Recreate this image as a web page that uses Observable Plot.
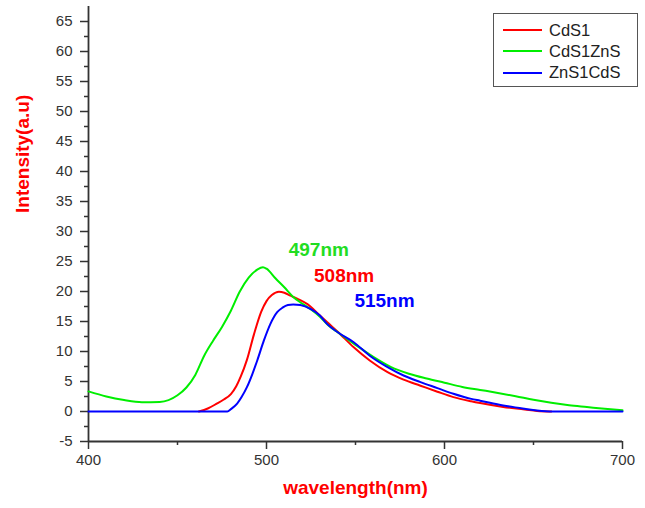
<!DOCTYPE html>
<html>
<head>
<meta charset="utf-8">
<script src="https://cdn.jsdelivr.net/npm/d3@7"></script>
<script src="https://cdn.jsdelivr.net/npm/@observablehq/plot@0.6"></script>
<style>
  body { margin: 0; background: #fff; }
  #wrap { position: relative; width: 645px; height: 508px; font-family: "Liberation Sans", Arial, sans-serif; }
  #legend { position: absolute; left: 493px; top: 13px; width: 143px; height: 72px; border: 1.5px solid #555; background: #fff; }
  #legend .row { position: absolute; left: 0; height: 20px; display: flex; align-items: center; }
  #legend .sw { display: inline-block; width: 39px; height: 2px; margin-left: 9px; margin-right: 7px; }
  #legend .lab { font-size: 16.5px; color: #222; }
</style>
</head>
<body>
<div id="wrap"></div>
<script>
// ---- data ----
const seriesNames = ["CdS1", "CdS1ZnS", "ZnS1CdS"];
const seriesColors = ["#ff0000", "#00ee00", "#0000ff"];

const cdsWl = [462, 467, 472, 476, 480, 483, 485.5, 489, 493, 497, 500, 503, 507, 510, 513.5, 518, 523, 530, 534, 540, 549, 558, 568, 577, 586.5, 596, 605, 615, 620, 633, 645, 652, 660];
const cdsI  = [0, 0.5, 1.3, 2.0, 2.9, 4.2, 5.8, 8.6, 12.9, 16.6, 18.4, 19.4, 19.95, 19.8, 19.3, 18.7, 17.9, 16.0, 14.9, 13.3, 10.7, 8.5, 6.55, 5.3, 4.3, 3.3, 2.4, 1.7, 1.4, 0.75, 0.35, 0.1, 0];

const cdsZnsWl = [400, 410, 420, 430, 440, 450, 455, 460, 465, 470, 475, 480, 485, 490, 495, 498, 500, 505, 510, 515, 520, 525, 530, 535, 540, 550, 560, 570, 580, 590, 600, 610, 620, 630, 640, 650, 660, 670, 680, 690, 700];
const cdsZnsI  = [3.35, 2.5, 1.9, 1.55, 1.6, 2.7, 4.0, 6.1, 9.3, 11.8, 14.1, 16.8, 20.0, 22.3, 23.7, 24.05, 23.8, 22.2, 20.7, 19.1, 18.0, 17.0, 15.8, 14.3, 13.2, 11.1, 9.1, 7.4, 6.3, 5.5, 4.8, 4.1, 3.6, 3.1, 2.55, 1.95, 1.45, 1.05, 0.75, 0.45, 0.2];

const znsCdsWl = [400, 440, 478, 480, 483.5, 486, 489, 492, 494.8, 498.5, 502.2, 506, 509, 512, 515, 519, 524.7, 530, 534, 540, 549, 558, 568, 577, 586.5, 596, 605, 615, 620, 633, 645, 652, 661, 680, 700];
const znsCdsI  = [0, 0, 0, 0.4, 1.3, 2.4, 4.05, 6.2, 8.5, 11.8, 14.6, 16.55, 17.3, 17.75, 17.85, 17.75, 17.1, 16.0, 14.6, 13.2, 11.55, 9.3, 7.4, 6.0, 4.9, 3.9, 2.95, 2.1, 1.8, 1.0, 0.45, 0.17, 0, 0, 0];

const annoLabels = ["497nm", "508nm", "515nm"];
const annoWl = [529.4, 543.6, 566.3];
const annoI = [26.9, 22.6, 18.5];
const annoColors = ["#22dd22", "#ff0000", "#0000ff"];

const xTicks = [400, 500, 600, 700];
const xMinor = [450, 550, 650];
const yTicks = d3.range(-5, 66, 5);
const yMinor = d3.range(-2.5, 63, 5);

// ---- build ----
const wlArrays = [cdsWl, cdsZnsWl, znsCdsWl];
const iArrays = [cdsI, cdsZnsI, znsCdsI];
const rows = [];
seriesNames.forEach((s, k) => wlArrays[k].forEach((w, j) => rows.push({series: s, wl: w, I: iArrays[k][j]})));
const annos = annoLabels.map((t, k) => ({t, wl: annoWl[k], I: annoI[k], c: annoColors[k]}));

const axisColor = "#333";
const fmt = d => String(d);
const chart = Plot.plot({
  width: 645,
  height: 508,
  marginTop: 6,
  marginBottom: 67,
  marginLeft: 88,
  marginRight: 23,
  style: {fontFamily: '"Liberation Sans", Arial, sans-serif', color: axisColor, background: "#fff"},
  x: {domain: [400, 700]},
  y: {domain: [-5, 67.5]},
  color: {domain: seriesNames, range: seriesColors},
  marks: [
    Plot.axisX({ticks: xTicks, tickSize: 8, tickPadding: 5, fontSize: 15, label: null, strokeWidth: 1.5, tickFormat: fmt}),
    Plot.axisX({ticks: xMinor, tickSize: 4, tickFormat: () => "", label: null, strokeWidth: 1.5}),
    Plot.axisY({ticks: yTicks, tickSize: 8, tickPadding: 8, fontSize: 15, label: null, strokeWidth: 1.5, tickFormat: fmt}),
    Plot.axisY({ticks: yMinor, tickSize: 4, tickFormat: () => "", label: null, strokeWidth: 1.5}),
    Plot.ruleX([400], {stroke: axisColor, strokeWidth: 1.8}),
    Plot.ruleY([-5], {stroke: axisColor, strokeWidth: 1.8}),
    Plot.line(rows, {x: "wl", y: "I", z: "series", stroke: "series", strokeWidth: 2, curve: "monotone-x"}),
    Plot.text(annos, {x: "wl", y: "I", text: "t", fill: "c", fontSize: 19, fontWeight: "bold", textAnchor: "middle"}),
    Plot.text(["Intensity(a.u)"], {frameAnchor: "left", rotate: -90, dx: -66, dy: -11, fill: "#ff0000", fontSize: 19, fontWeight: "bold"}),
    Plot.text(["wavelength(nm)"], {frameAnchor: "bottom", dy: 52, fill: "#ff0000", fontSize: 19, fontWeight: "bold"})
  ]
});

const wrap = document.getElementById("wrap");
wrap.appendChild(chart);

const legend = document.createElement("div");
legend.id = "legend";
seriesNames.forEach((s, k) => {
  const row = document.createElement("div");
  row.className = "row";
  row.style.top = (6 + k * 21.3) + "px";
  const sw = document.createElement("span");
  sw.className = "sw";
  sw.style.background = seriesColors[k];
  const lab = document.createElement("span");
  lab.className = "lab";
  lab.textContent = s;
  row.appendChild(sw);
  row.appendChild(lab);
  legend.appendChild(row);
});
wrap.appendChild(legend);
</script>
</body>
</html>
